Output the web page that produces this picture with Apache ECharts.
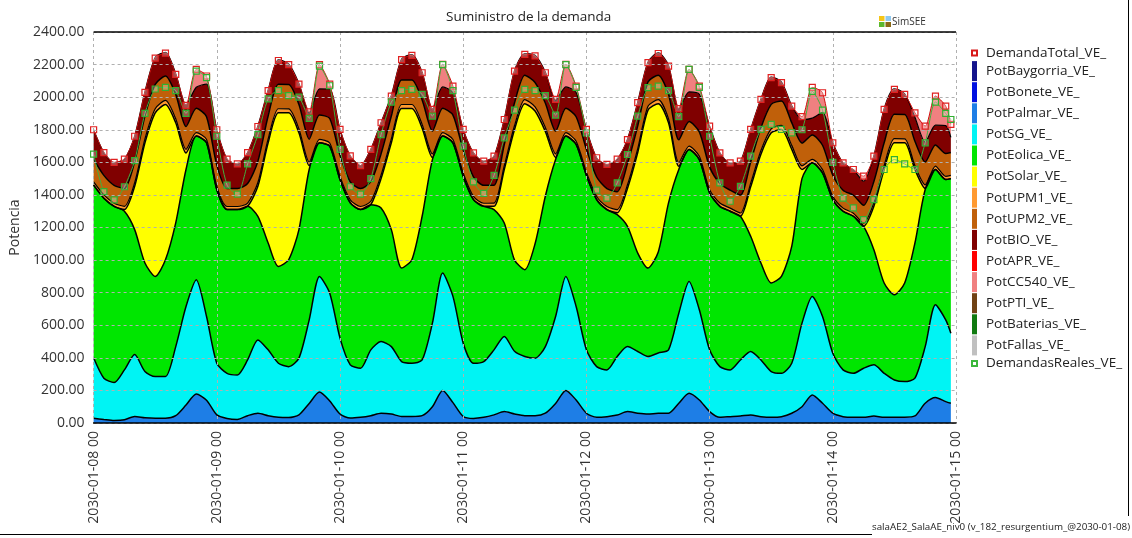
<!DOCTYPE html>
<html>
<head>
<meta charset="utf-8">
<title>Suministro de la demanda</title>
<script src="https://cdn.jsdelivr.net/npm/echarts@6/dist/echarts.min.js"></script>
<style>
  html, body { margin: 0; padding: 0; background: #fff; }
  #main { width: 1132px; height: 538px; }
</style>
</head>
<body>
<div id="main"></div>
<script>
// horas desde 2030-01-08 00 (paso de 2 h)
var horas = [0,2,4,6,8,10,12,14,16,18,20,22, 24,26,28,30,32,34,36,38,40,42,44,46,
  48,50,52,54,56,58,60,62,64,66,68,70, 72,74,76,78,80,82,84,86,88,90,92,94,
  96,98,100,102,104,106,108,110,112,114,116,118, 120,122,124,126,128,130,132,134,136,138,140,142,
  144,146,148,150,152,154,156,158,160,162,164,166,167];
var etiquetasX = ['2030-01-08 00','2030-01-09 00','2030-01-10 00','2030-01-11 00',
  '2030-01-12 00','2030-01-13 00','2030-01-14 00','2030-01-15 00'];

var potPalmar = [29,22,16,20,40,32,29,29,45,110,178,140, 50,28,22,45,60,45,35,33,50,120,190,135,
  55,30,35,45,60,55,40,40,45,100,200,125, 40,28,35,50,70,55,45,45,60,120,200,141,
  60,35,39,49,70,60,55,60,60,121,182,141, 70,35,39,43,49,39,35,39,60,100,172,121,
  60,39,35,35,43,35,35,35,43,121,156,131,121];
var potSG = [371,253,232,306,380,284,256,256,424,605,701,514, 317,277,273,342,450,404,332,313,348,513,710,662,
  466,327,301,404,440,414,337,327,342,513,720,652, 450,339,342,399,461,385,363,353,409,534,700,574,
  389,311,287,359,399,379,353,370,389,553,687,554, 379,311,287,344,390,348,281,266,307,513,605,533,
  368,287,270,301,314,270,229,219,232,348,570,502,430];
var potEolica = [1060,1105,1082,974,767,666,615,717,759,841,882,1066, 1066,1005,1015,943,759,656,594,656,789,923,820,902,
  973,994,974,891,820,718,574,635,882,1004,841,943, 1025,1004,953,861,697,560,533,702,923,963,861,995,
  1071,1025,984,871,738,604,543,620,902,882,810,922, 963,984,974,882,707,595,543,595,717,887,820,881,
  943,974,964,871,707,554,523,605,830,964,830,861,949];
var potSolar = [0,0,0,10,266,738,1004,953,615,102,0,0, 0,0,0,0,184,615,943,902,594,24,0,0,
  0,0,0,0,180,533,979,928,541,13,0,0, 0,0,0,20,328,802,1019,815,398,13,0,0,
  0,0,0,11,233,617,969,910,492,20,0,0, 0,0,0,0,304,668,922,902,596,56,0,0,
  0,0,0,0,266,697,933,861,451,7,0,0,0];
var potUPM1 = [20,20,19,20,22,24,25,25,24,22,21,20, 20,19,19,20,23,24,25,24,24,22,21,20,
  20,19,19,21,22,24,25,25,23,22,21,20, 20,20,19,20,23,24,25,25,24,22,21,20,
  20,19,19,20,22,24,24,25,24,22,21,20, 20,20,19,20,22,23,25,25,24,22,21,20,
  20,19,19,19,22,24,25,24,23,22,21,20,20];
var potUPM2 = [140,120,110,110,130,140,150,150,150,140,150,140, 130,110,110,120,130,140,150,150,150,140,150,150,
  130,110,110,120,130,140,150,150,150,140,150,150, 140,120,110,110,130,140,150,150,150,140,150,150,
  140,120,110,110,130,140,150,150,150,140,150,150, 140,120,110,110,130,140,150,150,140,140,150,150,
  130,110,110,110,130,140,150,150,150,140,130,140,140];
var potBIO = [180,140,140,180,157,150,166,145,127,132,129,200, 217,180,150,190,217,160,151,126,129,160,160,181,
  158,159,140,200,193,127,130,157,170,135,131,138, 127,147,147,178,157,198,133,168,190,186,131,148,
  122,117,147,200,150,146,122,138,178,190,182,231, 250,188,167,208,202,176,169,117,105,144,103,202,
  199,167,157,148,158,209,158,127,148,122,121,171,93];
var potCC540 = [0,0,0,0,0,0,0,0,0,0,110,50, 0,0,0,0,0,0,0,0,0,10,150,30,
  0,0,0,0,0,0,0,0,0,0,140,40, 0,0,0,0,0,0,0,0,0,10,140,40,
  0,0,0,0,0,0,0,0,0,0,140,50, 0,0,0,0,0,0,0,0,0,20,190,120,
  0,0,0,30,0,0,0,0,30,100,180,120,80];
var demandaTotal = [1800,1660,1600,1620,1760,2030,2240,2270,2140,1950,2170,2130, 1800,1620,1590,1660,1820,2040,2225,2200,2080,1910,2200,2080,
  1802,1640,1580,1680,1843,2007,2230,2257,2150,1925,2202,2068, 1802,1658,1607,1638,1863,2160,2263,2253,2150,1986,2202,2068,
  1802,1628,1587,1620,1740,1966,2212,2268,2191,1930,2171,2068, 1822,1658,1597,1607,1802,1986,2120,2089,1945,1880,2060,2027,
  1720,1597,1556,1515,1638,1925,2048,2017,1904,1822,2007,1945,1833];
var demandasReales = [1650,1420,1370,1450,1610,1900,2050,2060,2040,1900,2160,2120, 1760,1460,1405,1590,1770,1990,2040,2010,2000,1870,2190,2070,
  1680,1450,1405,1500,1770,1970,2040,2048,2017,1884,2200,2040, 1700,1480,1410,1520,1750,1920,2048,2040,2010,1890,2200,2060,
  1780,1430,1380,1474,1648,1884,2058,2068,2040,1880,2170,2060, 1760,1474,1361,1453,1638,1802,1833,1802,1781,1800,2036,1920,
  1600,1380,1320,1248,1371,1556,1617,1590,1556,1720,1970,1900,1863];

var fuente = "'Open Sans', sans-serif";
var HORA = 3600 * 1000;
var inicio = new Date(2030, 0, 8, 0, 0, 0).getTime();

function pares(arr) {
  return arr.map(function (v, i) { return [inicio + horas[i] * HORA, v]; });
}

// serie apilada (area con borde negro); sin datos => solo aparece en la leyenda
function apilada(nombre, datos, color, anchoLinea) {
  var s = {
    name: nombre,
    type: 'line',
    data: datos ? pares(datos) : [],
    symbol: 'none',
    smooth: 0.25,
    lineStyle: { color: '#000', width: anchoLinea },
    areaStyle: { color: color, opacity: 1 },
    itemStyle: { color: color },
    emphasis: { disabled: true },
    z: 2
  };
  if (datos) s.stack = 'total';
  return s;
}

var cuadro = 'path://M0,0h10v10h-10z';

var chart = echarts.init(document.getElementById('main'));
var option = {
  animation: false,
  backgroundColor: '#fff',
  textStyle: { fontFamily: fuente },
  title: {
    text: 'Suministro de la demanda',
    left: 441, top: 5,
    textStyle: { fontSize: 13.5, fontWeight: 'normal', color: '#222', fontFamily: fuente }
  },
  grid: { left: 93, right: 176, top: 32, bottom: 115 },
  legend: {
    orient: 'vertical',
    left: 971, top: 46,
    padding: 0,
    itemWidth: 5, itemHeight: 20, itemGap: 1.1,
    selectedMode: false,
    icon: 'rect',
    itemStyle: { borderWidth: 0 },
    textStyle: { fontSize: 13.5, color: '#222', fontFamily: fuente, padding: [0, 0, 0, 4] },
    data: [
      { name: 'DemandaTotal_VE_', icon: cuadro, itemStyle: { color: '#fff', borderColor: '#d81818', borderWidth: 2 } },
      'PotBaygorria_VE_', 'PotBonete_VE_', 'PotPalmar_VE_', 'PotSG_VE_', 'PotEolica_VE_', 'PotSolar_VE_',
      'PotUPM1_VE_', 'PotUPM2_VE_', 'PotBIO_VE_', 'PotAPR_VE_', 'PotCC540_VE_', 'PotPTI_VE_',
      'PotBaterias_VE_', 'PotFallas_VE_',
      { name: 'DemandasReales_VE_', icon: cuadro, itemStyle: { color: '#fff', borderColor: '#3cb83c', borderWidth: 2 } }
    ]
  },
  xAxis: {
    type: 'time', min: inicio, max: inicio + 168 * HORA,
    minInterval: 24 * HORA, maxInterval: 24 * HORA, z: 5,
    axisLine: { show: true, lineStyle: { color: '#000', width: 1.5 } },
    axisTick: { show: false },
    splitLine: { show: true, lineStyle: { type: [3, 3], color: '#b0b0b0' } },
    axisLabel: {
      rotate: 90, margin: 8, fontSize: 14, color: '#333', fontFamily: fuente,
      showMinLabel: true, showMaxLabel: true,
      formatter: function (v) { return etiquetasX[Math.round((v - inicio) / (24 * HORA))]; }
    }
  },
  yAxis: {
    type: 'value', min: 0, max: 2400, interval: 200, z: 5,
    name: 'Potencia', nameLocation: 'middle', nameGap: 67,
    nameTextStyle: { fontSize: 14, color: '#333', fontFamily: fuente },
    axisLine: { show: false },
    axisTick: { show: false },
    splitLine: { lineStyle: { type: [3, 3], color: '#b0b0b0' } },
    axisLabel: {
      margin: 9, fontSize: 14, color: '#333', fontFamily: fuente,
      formatter: function (v) { return v.toFixed(2); }
    }
  },
  series: [
    apilada('PotBaygorria_VE_', null, '#14148c', 1.5),
    apilada('PotBonete_VE_', null, '#0010e0', 1.5),
    apilada('PotPalmar_VE_', potPalmar, '#1e7ee6', 1.5),
    apilada('PotSG_VE_', potSG, '#00f4f4', 1.5),
    apilada('PotEolica_VE_', potEolica, '#00e600', 1.5),
    apilada('PotSolar_VE_', potSolar, '#ffff00', 1.5),
    apilada('PotUPM1_VE_', potUPM1, '#ff9a30', 1.2),
    apilada('PotUPM2_VE_', potUPM2, '#c0600a', 1.5),
    apilada('PotBIO_VE_', potBIO, '#800000', 1.2),
    apilada('PotAPR_VE_', null, '#ff0000', 0),
    apilada('PotCC540_VE_', potCC540, '#f08080', 0),
    apilada('PotPTI_VE_', null, '#704214', 0),
    apilada('PotBaterias_VE_', null, '#107a10', 0),
    apilada('PotFallas_VE_', null, '#c0c0c0', 0),
    {
      name: 'DemandaTotal_VE_', type: 'line', data: pares(demandaTotal),
      symbol: 'rect', symbolSize: 6, smooth: 0.25,
      lineStyle: { color: '#d01010', width: 1 },
      itemStyle: { color: 'rgba(255,255,255,0.3)', borderColor: '#e02020', borderWidth: 1.2 },
      emphasis: { disabled: true }, z: 4
    },
    {
      name: 'DemandasReales_VE_', type: 'line', data: pares(demandasReales),
      symbol: 'rect', symbolSize: 6, smooth: 0.25,
      lineStyle: { color: '#40b040', width: 1 },
      itemStyle: { color: 'rgba(255,255,255,0.3)', borderColor: '#30b030', borderWidth: 1.2 },
      emphasis: { disabled: true }, z: 4
    }
  ]
};
chart.setOption(option);

// marco, logo y pie
var a = chart.convertToPixel({ gridIndex: 0 }, [inicio, 2400]);
var b = chart.convertToPixel({ gridIndex: 0 }, [inicio + 168 * HORA, 2400]);
chart.setOption({
  graphic: [
    { type: 'line', shape: { x1: a[0], y1: a[1], x2: b[0], y2: b[1] }, style: { stroke: '#000', lineWidth: 1.5 }, z: 10 },
    { type: 'rect', shape: { x: 879, y: 16, width: 5.5, height: 5 }, style: { fill: '#f5c518' } },
    { type: 'rect', shape: { x: 885.5, y: 16, width: 5.5, height: 5 }, style: { fill: '#8ec9f0' } },
    { type: 'rect', shape: { x: 879, y: 22, width: 5.5, height: 5 }, style: { fill: '#5cb82e' } },
    { type: 'rect', shape: { x: 885.5, y: 22, width: 5.5, height: 5 }, style: { fill: '#8b6914' } },
    { type: 'text', x: 892, y: 22, style: { text: 'SimSEE', fontSize: 10, fill: '#333', fontFamily: fuente, textVerticalAlign: 'middle' } },
    { type: 'line', shape: { x1: 1128.5, y1: 0, x2: 1128.5, y2: 516 }, style: { stroke: '#000', lineWidth: 1 } },
    { type: 'line', shape: { x1: 0, y1: 534.5, x2: 872, y2: 534.5 }, style: { stroke: '#000', lineWidth: 1 } },
    { type: 'text', x: 872, y: 527, style: { text: 'salaAE2_SalaAE_niv0 (v_182_resurgentium_@2030-01-08)', fontSize: 9.8, fill: '#222', fontFamily: fuente, textVerticalAlign: 'middle' } }
  ]
});
</script>
</body>
</html>
